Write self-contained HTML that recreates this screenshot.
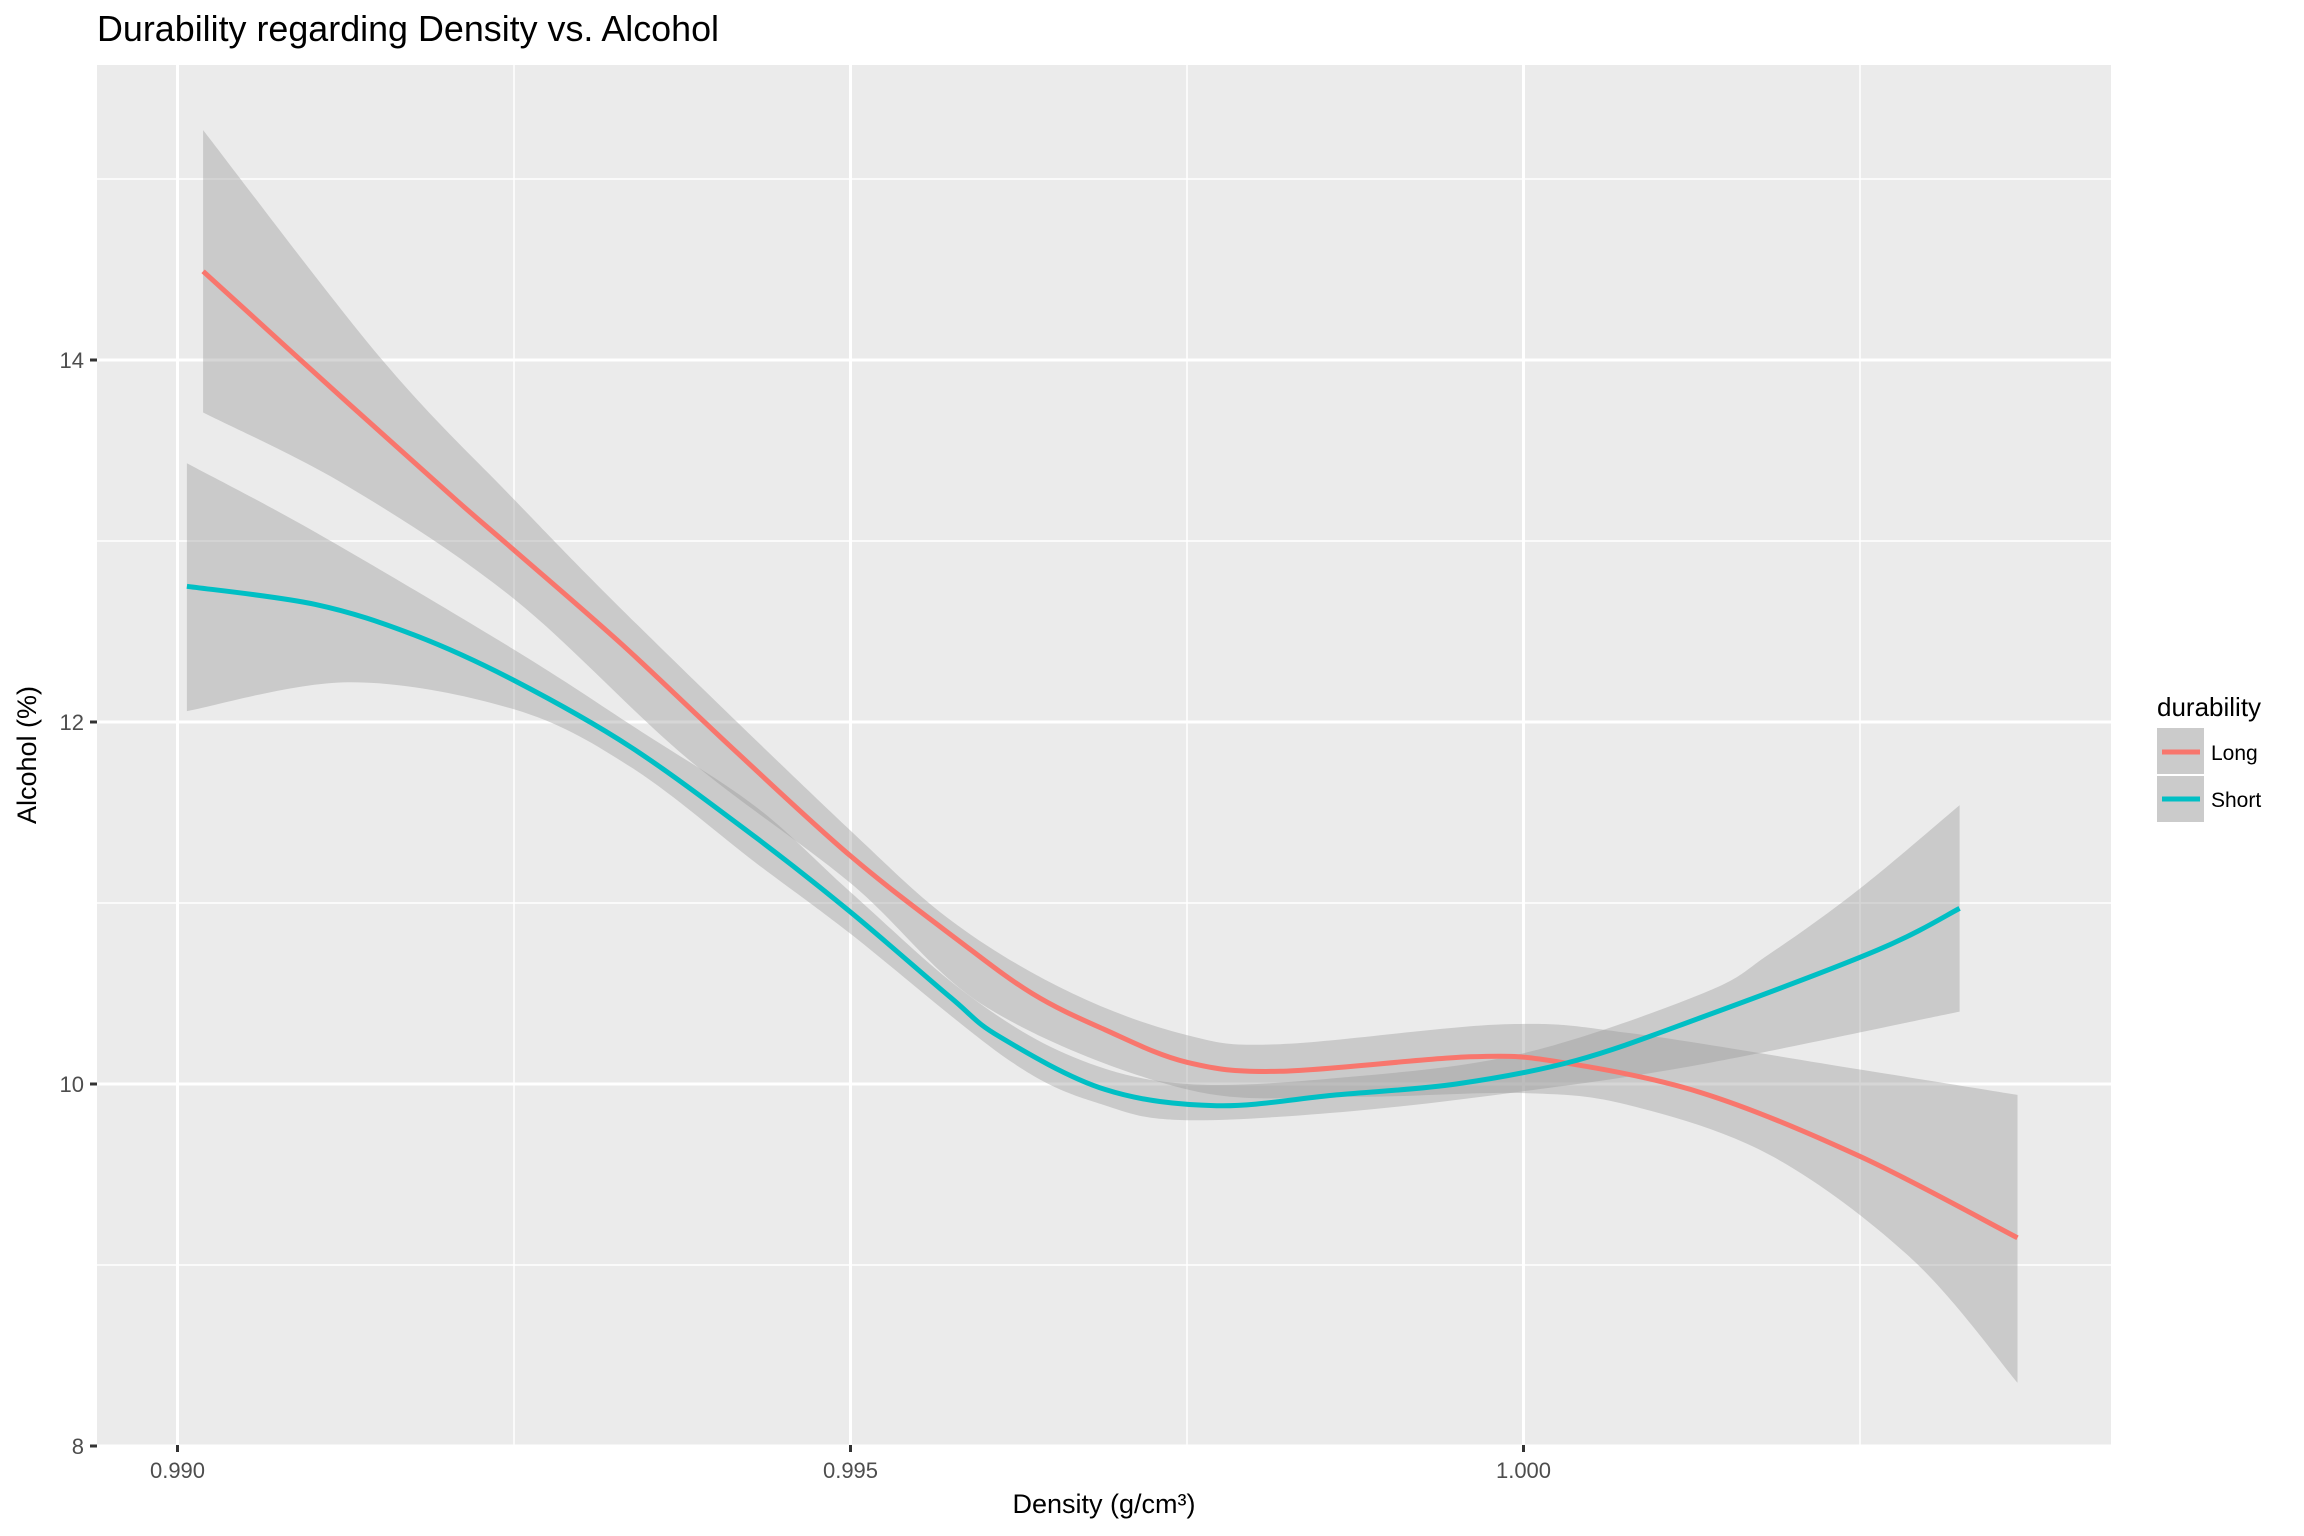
<!DOCTYPE html>
<html><head><meta charset="utf-8"><style>
html,body{margin:0;padding:0;background:#fff}
svg{display:block;font-family:"Liberation Sans",sans-serif}
</style></head><body>
<svg id="chart" width="2304" height="1536" viewBox="0 0 2304 1536" xmlns="http://www.w3.org/2000/svg">
<text x="97" y="41" font-size="36" textLength="622" lengthAdjust="spacingAndGlyphs" fill="#000">Durability regarding Density vs. Alcohol</text>
<rect x="97" y="65" width="2014" height="1380" fill="#ebebeb"/>
<g id="grid"></g><g id="bands"></g><g id="lines"></g><g id="axes"></g>
<text x="1104" y="1513" font-size="27" text-anchor="middle" fill="#000">Density (g/cm³)</text>
<text transform="translate(36,755) rotate(-90)" font-size="27" text-anchor="middle" fill="#000">Alcohol (%)</text>
<g>
<text x="2157" y="716" font-size="26" fill="#000">durability</text>
<rect x="2157" y="728" width="47" height="46" fill="#cbcbcb"/>
<line x1="2162" y1="752" x2="2200" y2="752" stroke="#F8766D" stroke-width="5"/>
<text x="2211" y="760" font-size="21" fill="#000">Long</text>
<rect x="2157" y="776" width="47" height="46" fill="#cbcbcb"/>
<line x1="2162" y1="799" x2="2200" y2="799" stroke="#00BFC4" stroke-width="5"/>
<text x="2211" y="807" font-size="21" fill="#000">Short</text>
</g>
</svg>
<script>
const xTicks = [0.990, 0.995, 1.000];
const xTickLabels = ["0.990", "0.995", "1.000"];
const xMinor = [0.9925, 0.9975, 1.0025];
const yTicks = [8, 10, 12, 14];
const yTickLabels = ["8", "10", "12", "14"];
const yMinor = [9, 11, 13, 15];

const longX = [0.99019,0.99127,0.99208,0.9925,0.9933,0.99413,0.995,0.99579,0.99635,0.99689,0.9975,0.99819,0.9996,1.00028,1.00133,1.0025,1.00367];
const longY = [14.49,13.76,13.22,12.95,12.43,11.85,11.26,10.80,10.50,10.30,10.12,10.07,10.15,10.12,9.95,9.60,9.15];
const longUpperX = [0.99019,0.99151,0.9925,0.99344,0.995,0.99579,0.99665,0.9975,0.99819,0.99986,1.0008,1.0025,1.00367];
const longUpper = [15.27,14.01,13.23,12.52,11.40,10.88,10.50,10.27,10.22,10.33,10.28,10.08,9.94];
const longLowerX = [0.99019,0.99127,0.9925,0.99377,0.995,0.99602,0.9975,0.99872,1.0,1.0008,1.00185,1.00289,1.00367];
const longLower = [13.71,13.30,12.68,11.81,11.11,10.42,9.97,9.93,9.95,9.88,9.60,9.03,8.35];

const shortX = [0.99007,0.99102,0.99176,0.9925,0.99337,0.9943,0.995,0.99574,0.99611,0.99689,0.99772,0.99861,0.9995,1.00039,1.00133,1.00263,1.00324];
const shortY = [12.75,12.65,12.48,12.23,11.86,11.36,10.95,10.48,10.26,9.97,9.88,9.94,10.00,10.13,10.37,10.74,10.97];
const shortUpperX = [0.99007,0.99102,0.9925,0.99344,0.9943,0.995,0.99586,0.99665,0.9975,0.99872,1.0,1.00133,1.00183,1.0025,1.00324];
const shortUpper = [13.43,13.05,12.40,11.95,11.53,11.06,10.50,10.15,10.00,10.04,10.17,10.50,10.72,11.08,11.54];
const shortLowerX = [0.99007,0.99127,0.9925,0.99337,0.9943,0.995,0.9962,0.9969,0.9975,0.99872,1.0,1.00133,1.00324];
const shortLower = [12.06,12.22,12.07,11.75,11.22,10.83,10.12,9.88,9.80,9.85,9.96,10.11,10.40];

const P = {l:97, r:2111, t:65, b:1445};
function sx(v){ return 514 + (v - 0.9925) * 134600; }
function sy(v){ return 1084 - (v - 10) * 181; }
const NS = "http://www.w3.org/2000/svg";
function mk(tag, attrs, parent){
  const e = document.createElementNS(NS, tag);
  for (const k in attrs) e.setAttribute(k, attrs[k]);
  parent.appendChild(e); return e;
}
function segs(pts){
  let d = "";
  for (let i = 0; i < pts.length - 1; i++){
    const p0 = pts[Math.max(0,i-1)], p1 = pts[i], p2 = pts[i+1], p3 = pts[Math.min(pts.length-1,i+2)];
    const c1 = [p1[0] + (p2[0]-p0[0])/6, p1[1] + (p2[1]-p0[1])/6];
    const c2 = [p2[0] - (p3[0]-p1[0])/6, p2[1] - (p3[1]-p1[1])/6];
    d += "C" + c1[0].toFixed(1)+","+c1[1].toFixed(1)+" "+c2[0].toFixed(1)+","+c2[1].toFixed(1)+" "+p2[0].toFixed(1)+","+p2[1].toFixed(1);
  }
  return d;
}
function smooth(pts){ return "M" + pts[0][0].toFixed(1) + "," + pts[0][1].toFixed(1) + segs(pts); }
const grid = document.getElementById('grid');
yMinor.forEach(v => { const l = mk('line',{x1:P.l,x2:P.r,y1:sy(v),y2:sy(v),stroke:'#fff','stroke-width':1.5},grid);
    });
xMinor.forEach(v => { const l = mk('line',{x1:sx(v),x2:sx(v),y1:P.t,y2:P.b,stroke:'#fff','stroke-width':1.5},grid);
    });
yTicks.forEach(v => { const l = mk('line',{x1:P.l,x2:P.r,y1:sy(v),y2:sy(v),stroke:'#fff','stroke-width':3},grid);
    });
xTicks.forEach(v => { const l = mk('line',{x1:sx(v),x2:sx(v),y1:P.t,y2:P.b,stroke:'#fff','stroke-width':3},grid);
    });

function band(ux, up, lx, lo, name){
  const top = ux.map((x,i)=>[sx(x), sy(up[i])]);
  const bot = lx.map((x,i)=>[sx(x), sy(lo[i])]).reverse();
  let d = smooth(top);
  d += "L" + bot[0][0].toFixed(1) + "," + bot[0][1].toFixed(1) + segs(bot) + "Z";
  const p = mk('path',{d:d,fill:'#999999','fill-opacity':0.4},document.getElementById('bands'));
  
  
}
band(longUpperX, longUpper, longLowerX, longLower, 'long-confidence-band');
band(shortUpperX, shortUpper, shortLowerX, shortLower, 'short-confidence-band');

function line(xs, ys, color, name){
  const p = mk('path',{d:smooth(xs.map((x,i)=>[sx(x), sy(ys[i])])),fill:'none',stroke:color,'stroke-width':5},document.getElementById('lines'));
  
  
}
line(longX, longY, '#F8766D', 'long-smooth-line');
line(shortX, shortY, '#00BFC4', 'short-smooth-line');

const axes = document.getElementById('axes');
xTicks.forEach((v,i) => {
  const t = mk('line',{x1:sx(v),x2:sx(v),y1:P.b,y2:P.b+7,stroke:'#333','stroke-width':3},axes);
   
  const tx = mk('text',{x:sx(v),y:1478,'font-size':22,'text-anchor':'middle',fill:'#4d4d4d'},axes);
  tx.textContent = xTickLabels[i];
   
});
yTicks.forEach((v,i) => {
  const t = mk('line',{x1:P.l-7,x2:P.l,y1:sy(v),y2:sy(v),stroke:'#333','stroke-width':3},axes);
   
  const tx = mk('text',{x:84,y:sy(v)+8,'font-size':22,'text-anchor':'end',fill:'#4d4d4d'},axes);
  tx.textContent = yTickLabels[i];
   
});
</script>
</body></html>
